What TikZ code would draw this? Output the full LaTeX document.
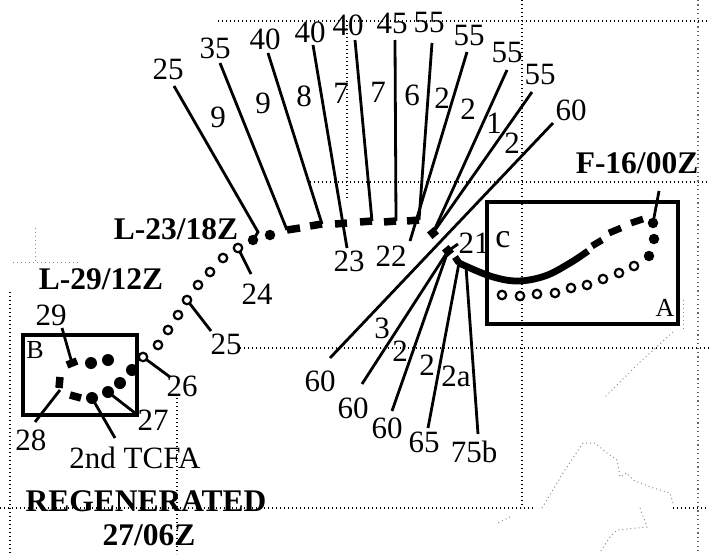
\documentclass[tikz,border=0pt]{standalone}
\usepackage{fontspec}
\setmainfont{Liberation Serif}
\begin{document}
\begin{tikzpicture}[x=1pt,y=-1pt,
  lab/.style={font=\fontsize{31}{32}\selectfont, inner sep=0pt},
  blab/.style={font=\fontsize{31.5}{32}\selectfont\bfseries, inner sep=0pt},
  smallab/.style={font=\fontsize{26}{27}\selectfont, inner sep=0pt},
  lead/.style={line width=2.8pt},
  gridline/.style={line width=1.8pt, dash pattern=on 1.4pt off 2.6pt, black},
  gridfaint/.style={line width=1.3pt, dash pattern=on 1.2pt off 3.2pt, black!60},
  coast/.style={line width=1pt, dash pattern=on 1pt off 3pt, black!45},
  trk/.style={line width=6.8pt},
  trkdash/.style={line width=7.5pt},
  bx/.style={line width=3.2pt},
  fdot/.style={circle, fill=black, inner sep=0pt, minimum size=10.5pt},
  bdot/.style={circle, fill=black, inner sep=0pt, minimum size=12pt},
  odot/.style={circle, draw=black, line width=2.2pt, inner sep=0pt, minimum size=8.5pt, fill=white},
  blk/.style={fill=black, inner sep=0pt, minimum size=8.5pt, rotate=40},
]
\useasboundingbox (0,0) rectangle (709,554);

% ---------- map grid ----------
\draw[gridline] (218,21) -- (709,21);
\draw[gridline] (310,182) -- (709,182);
\draw[gridline] (240,348) -- (709,348);
\draw[gridline] (0,508) -- (533,508);
\draw[gridline] (673,508) -- (709,508);
\draw[gridline] (347,21) -- (347,200);
\draw[gridline] (522,0) -- (522,508);
\draw[gridfaint] (698,0) -- (698,554);
\draw[gridline] (177,398) -- (177,554);
\draw[gridline] (10,292) -- (10,554);
\draw[coast] (35,228) -- (35,262);
\draw[coast] (13,262) -- (78,262);
% coastline
\draw[coast] (683,300) -- (683,332);
\draw[coast] (673,332) -- (640,362) -- (605,397);
\draw[coast] (542,508) -- (563,473) -- (583,443) -- (595,443) -- (607,453) -- (617,460) -- (620,477) -- (627,473) -- (633,480) -- (650,487) -- (670,493) -- (673,503);
\draw[coast] (510,517) -- (498,523);
\draw[coast] (640,508) -- (647,527) -- (617,530) -- (610,537) -- (600,552);

% ---------- boxes ----------
\draw[bx] (487,202) rectangle (678,324);
\draw[bx] (23,335) rectangle (137,415);
\node[smallab] (lA) at (665,308) {A};
\node[smallab] (lB) at (35,350) {B};
\node[font=\fontsize{34}{35}\selectfont, inner sep=0pt] (lc) at (503,240) {c};

% ---------- labels ----------
\node[lab] (w25) at (168,69) {25};
\node[lab] (w35) at (215,48) {35};
\node[lab] (w40a) at (265,39) {40};
\node[lab] (w40b) at (310,32) {40};
\node[lab] (w40c) at (348,25) {40};
\node[lab] (w45) at (392,23) {45};
\node[lab] (w55a) at (429,23) {55};
\node[lab] (w55b) at (469,36) {55};
\node[lab] (w55c) at (507,53) {55};
\node[lab] (w55d) at (540,75) {55};
\node[lab] (w60) at (571,110) {60};

\node[lab] (i1) at (218,117) {9};
\node[lab] (i2) at (263,103) {9};
\node[lab] (i3) at (304,96) {8};
\node[lab] (i4) at (341,93) {7};
\node[lab] (i5) at (378,92) {7};
\node[lab] (i6) at (412,95) {6};
\node[lab] (i7) at (442,98) {2};
\node[lab] (i8) at (468,109) {2};
\node[lab] (i9) at (494,123) {1};
\node[lab] (i10) at (512,143) {2};

\node[lab] (j1) at (382,328) {3};
\node[lab] (j2) at (400,351) {2};
\node[lab] (j3) at (427,365) {2};
\node[lab] (j4) at (456,376) {2a};

\node[lab] (b60a) at (320,381) {60};
\node[lab] (b60b) at (353,408) {60};
\node[lab] (b60c) at (387,428) {60};
\node[lab] (b65) at (424,442) {65};
\node[lab] (b75) at (474,452) {75b};

\node[lab] (t21) at (474,243) {21};
\node[lab] (t22) at (391,256) {22};
\node[lab] (t23) at (349,261) {23};
\node[lab] (t24) at (257,294) {24};
\node[lab] (t25) at (226,344) {25};
\node[lab] (t26) at (182,386) {26};
\node[lab] (t27) at (153,420) {27};
\node[lab] (t28) at (31,440) {28};
\node[lab] (t29) at (51,315) {29};
\node[lab] (tcfa) at (135,458) {2nd TCFA};

\node[blab] (L23) at (176,229) {L-23/18Z};
\node[blab] (L29) at (101,279) {L-29/12Z};
\node[blab] (F16) at (637,163) {F-16/00Z};
\node[blab] (reg) at (146,501) {REGENERATED};
\node[blab] (reg2) at (149,535) {27/06Z};

% ---------- track points ----------
\coordinate (d1) at (253,240);
\coordinate (d2) at (270,235);
\coordinate (D1a) at (287,230); \coordinate (D1b) at (300,228);
\coordinate (D2a) at (310,226); \coordinate (D2b) at (322,224);
\coordinate (D3a) at (335,224); \coordinate (D3b) at (347,223);
\coordinate (D4a) at (360,222); \coordinate (D4b) at (372,221);
\coordinate (D5a) at (384,222); \coordinate (D5b) at (396,221);
\coordinate (D6a) at (407,221); \coordinate (D6b) at (419,220);
\coordinate (k1) at (433,233);
\coordinate (k2) at (448,251);
\coordinate (ts) at (459,263);
\coordinate (te) at (466,267);

% leader start points
\coordinate (s25) at (174,86);   \coordinate (s25b) at (258,232);
\coordinate (s35) at (220,63);
\coordinate (s40a) at (268,53);
\coordinate (s40b) at (313,45);  \coordinate (e40b) at (347,248);
\coordinate (s40c) at (355,40);
\coordinate (s45) at (395,40);
\coordinate (s55a) at (432,43);
\coordinate (s55b) at (467,52);  \coordinate (e55b) at (410,241);
\coordinate (s55c) at (507,70);
\coordinate (s55d) at (532,92);
\coordinate (s60) at (553,123);  \coordinate (e60) at (330,358);
\coordinate (e60b) at (362,384);
\coordinate (e60c) at (392,411);
\coordinate (e65) at (428,428);
\coordinate (e75) at (478,434);
\coordinate (e21) at (458,244);

% ---------- leaders ----------
\draw[lead] (s25) -- (s25b) -- (d1);
\draw[lead] (s35) -- (D1a);
\draw[lead] (s40a) -- (D2b);
\draw[lead] (s40b) -- (e40b);
\draw[lead] (s40c) -- (D4b);
\draw[lead] (s45) -- (D5b);
\draw[lead] (s55a) -- (D6b);
\draw[lead] (s55b) -- (e55b);
\draw[lead] (s55c) -- (k1);
\draw[lead] (s55d) -- (k1);
\draw[lead] (s60) -- (e60);
\draw[lead] (e60b) -- (k2);
\draw[lead] (e60c) -- (k2);
\draw[lead] (e65) -- (ts);
\draw[lead] (e75) -- (te);
\draw[lead] (k2) -- (e21);

% ---------- track: left part ----------
\foreach \a/\b in {D1a/D1b,D2a/D2b,D3a/D3b,D4a/D4b,D5a/D5b,D6a/D6b}
  \draw[trkdash] (\a) -- (\b);
\node[blk] (kb1) at (k1) {};
\node[blk] (kb2) at (k2) {};
\node[fdot] (fd1) at (d1) {};
\node[fdot] (fd2) at (d2) {};

% open circles with date leaders
\coordinate (o1) at (238,248);
\coordinate (o5) at (187,300);
\coordinate (o9) at (143,357);
\draw[lead] (o1) -- (251,274);
\draw[lead] (o5) -- (211,331);
\draw[lead] (o9) -- (170,377);
\foreach \p in {(238,248),(223,258),(210,272),(198,285),(187,300),(178,315),(168,330),(158,345),(143,357)}
  \node[odot] at \p {};

% ---------- box B contents ----------
\coordinate (b29) at (72,363);
\coordinate (b28) at (60,390);
\coordinate (bT) at (92,398);
\coordinate (b27) at (108,392);
\draw[lead] (62,328) -- (b29);
\draw[lead] (b28) -- (35,422);
\draw[lead] (bT) -- (115,438);
\draw[lead] (b27) -- (135,413);
\draw[trkdash] (67,365) -- (77,361);
\draw[trkdash] (60,377) -- (59,388);
\draw[trkdash] (70,395) -- (81,398);
\node[bdot] (bd1) at (91,363) {};
\node[bdot] (bd2) at (108,360) {};
\node[bdot] (bd3) at (132,370) {};
\node[bdot] (bd4) at (120,383) {};
\node[bdot] (bd5) at (b27) {};
\node[bdot] (bd6) at (bT) {};

% ---------- track in box A ----------
\draw[trk] (455,257) -- (ts);
\draw[trk] plot[smooth, tension=0.6] coordinates {(459,263) (490,276) (517,281) (545,276) (570,263) (588,251)};
\draw[trk] (592,246) -- (602,240);
\draw[trk] (609,233) -- (621,228);
\draw[trk] (631,223) -- (643,219);
\coordinate (f0) at (653,223);
\draw[lead] (659,191) -- (f0);
\node[fdot] (fa1) at (f0) {};
\node[fdot] (fa2) at (654,239) {};
\node[fdot] (fa3) at (649,256) {};
\foreach \p in {(634,266),(619,273),(603,279),(587,285),(571,288),(555,293),(537,294),(520,296),(502,295)}
  \node[odot] at \p {};

\end{tikzpicture}
\end{document}
